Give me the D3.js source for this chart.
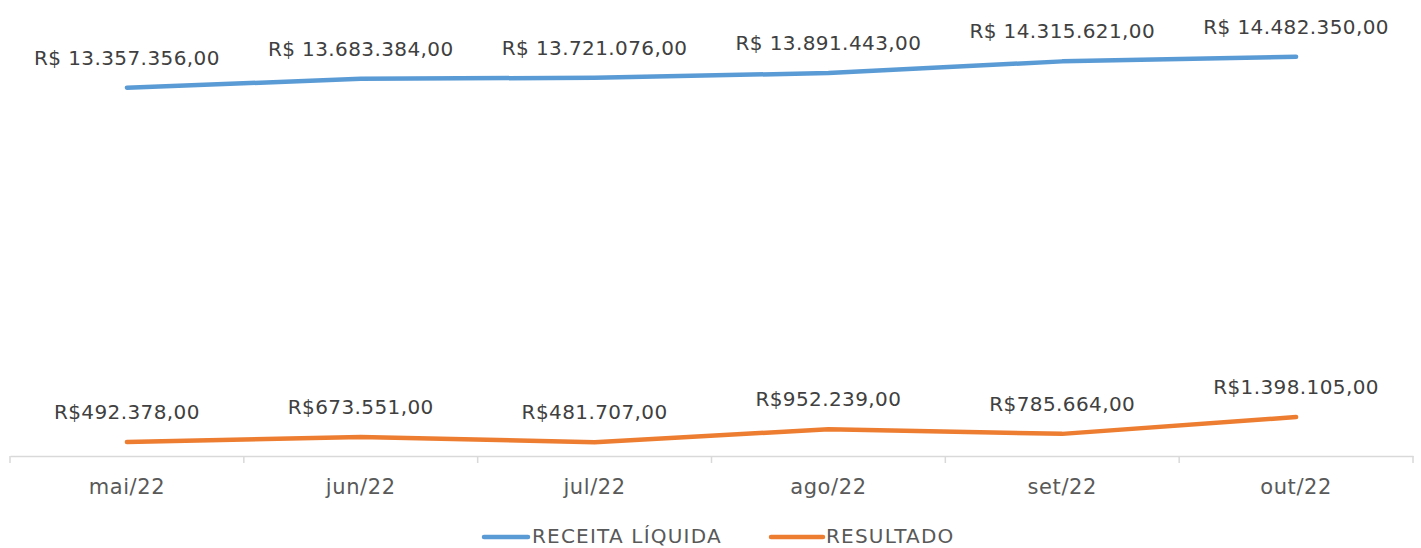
<!DOCTYPE html>
<html><head><meta charset="utf-8">
<script src="https://cdn.jsdelivr.net/npm/d3@7"></script>
<style>body{margin:0;background:#fff}svg{display:block}text{font-family:"DejaVu Sans",sans-serif}</style>
</head><body>
<svg id="c" width="1421" height="548"></svg>
<script>
const categories = ["mai/22","jun/22","jul/22","ago/22","set/22","out/22"];
const receita = [13357356, 13683384, 13721076, 13891443, 14315621, 14482350];
const resultado = [492378, 673551, 481707, 952239, 785664, 1398105];
const receitaLabels = ["R$ 13.357.356,00","R$ 13.683.384,00","R$ 13.721.076,00","R$ 13.891.443,00","R$ 14.315.621,00","R$ 14.482.350,00"];
const resultadoLabels = ["R$492.378,00","R$673.551,00","R$481.707,00","R$952.239,00","R$785.664,00","R$1.398.105,00"];
const seriesNames = ["RECEITA LÍQUIDA","RESULTADO"];
const colors = ["#5B9BD5","#ED7D31"];

const svg = d3.select("#c");
const x = d3.scaleBand().domain(categories).range([10, 1413]);
const y = d3.scaleLinear().domain([0, 16000000]).range([455.5, 15]);
const cx = d => x(d) + x.bandwidth()/2;

// axis
const ax = svg.append("g").attr("transform","translate(0,456)")
  .call(d3.axisBottom(x).tickSize(0).tickPadding(23));
ax.select(".domain").attr("stroke","#d9d9d9").attr("stroke-width",1.5);
ax.selectAll("text").attr("font-size",21).attr("letter-spacing",0.6).attr("fill","#595959").attr("font-family","DejaVu Sans");
// tick marks at band boundaries
const bounds = categories.map(c => x(c)).concat([x(categories[categories.length-1]) + x.bandwidth()]);
svg.append("g").selectAll("line").data(bounds).join("line")
  .attr("x1",d=>d).attr("x2",d=>d).attr("y1",456).attr("y2",463)
  .attr("stroke","#d9d9d9").attr("stroke-width",1.5);

const line = d3.line().x((d,i)=>cx(categories[i])).y(d=>y(d));
[receita, resultado].forEach((s,k)=>{
  svg.append("path").datum(s).attr("d",line).attr("fill","none")
    .attr("stroke",colors[k]).attr("stroke-width",4.5).attr("stroke-linecap","round").attr("stroke-linejoin","round");
});
const labs = [receitaLabels, resultadoLabels];
[receita, resultado].forEach((s,k)=>{
  svg.append("g").selectAll("text").data(s).join("text")
    .attr("x",(d,i)=>cx(categories[i])).attr("y",d=>y(d)-23)
    .attr("text-anchor","middle").attr("font-size",20).attr("letter-spacing",0.4).attr("fill","#404040")
    .text((d,i)=>labs[k][i]);
});

// legend
const leg = [{x0:484,x1:528,tx:532},{x0:771,x1:823,tx:826}];
leg.forEach((l,k)=>{
  svg.append("line").attr("x1",l.x0).attr("x2",l.x1).attr("y1",537).attr("y2",537)
    .attr("stroke",colors[k]).attr("stroke-width",4.5).attr("stroke-linecap","round");
  svg.append("text").attr("x",l.tx).attr("y",542.5).attr("font-size",20).attr("letter-spacing",1.2).attr("fill","#595959").text(seriesNames[k]);
});
</script>
</body></html>
